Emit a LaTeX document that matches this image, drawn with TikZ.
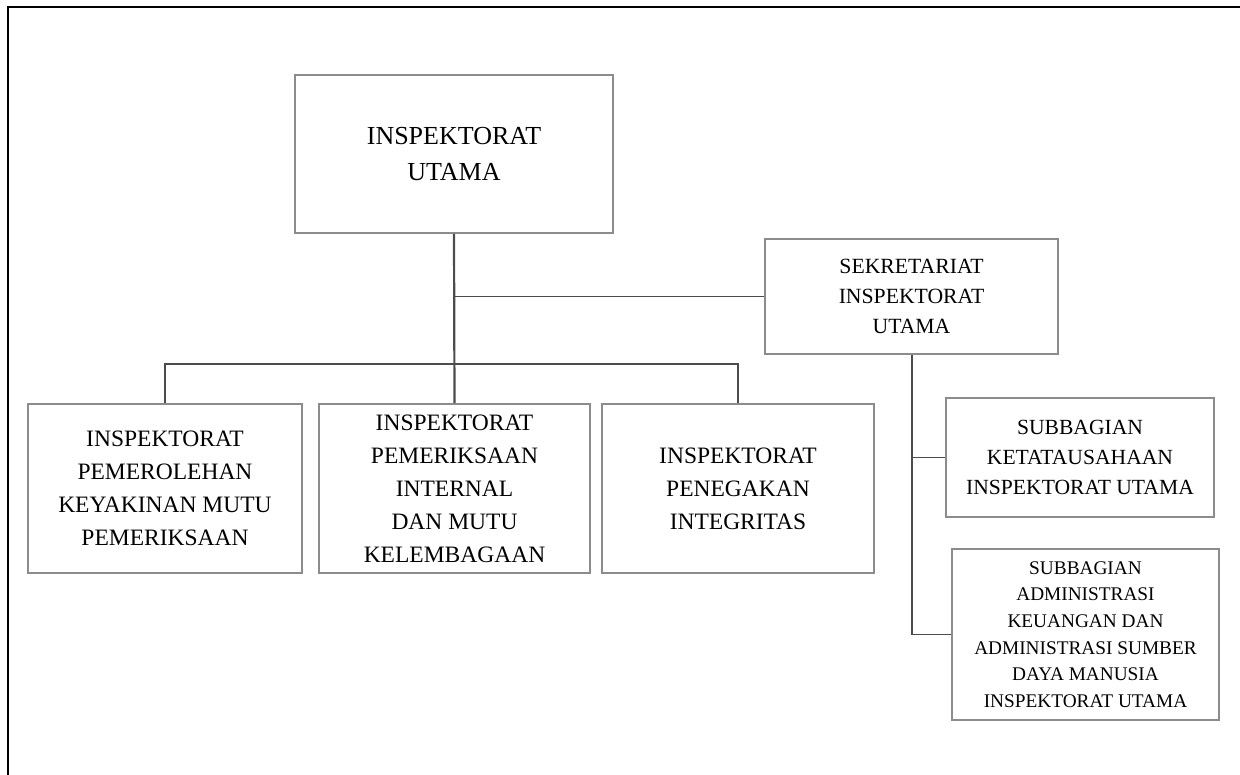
\documentclass[tikz,border=0pt]{standalone}
\usepackage{fontspec}
\setmainfont{Liberation Serif}
\usetikzlibrary{positioning}

\begin{document}
\begin{tikzpicture}[x=1pt,y=-1pt,
    unit/.style={rectangle,draw=black!45,line width=1.6pt,align=center,inner sep=0pt},
    link/.style={draw=black!70,line width=1.5pt}]
            \useasboundingbox (0,0) rectangle (1240,775);
            \draw [line width=2.6pt] (8,775) -- (8,7) -- (1240,7);

            \node [unit,minimum width=318,minimum height=158,font=\fontsize{26}{36}\selectfont] (iu) at (454,154) {INSPEKTORAT\\UTAMA};
            \node [unit,minimum width=293,minimum height=115,font=\fontsize{21.7}{30}\selectfont] (sek) at (911.5,296.5) {SEKRETARIAT\\INSPEKTORAT\\UTAMA};
            \node [unit,minimum width=274,minimum height=169,font=\fontsize{23.5}{33}\selectfont] (ipk) at (165,488.5) {INSPEKTORAT\\PEMEROLEHAN\\KEYAKINAN MUTU\\PEMERIKSAAN};
            \node [unit,minimum width=271,minimum height=169,font=\fontsize{23.5}{33}\selectfont] (ipi) at (454.5,488.5) {INSPEKTORAT\\PEMERIKSAAN\\INTERNAL\\DAN MUTU\\KELEMBAGAAN};
            \node [unit,minimum width=272,minimum height=169,font=\fontsize{23.5}{33}\selectfont] (ipn) at (738,488.5) {INSPEKTORAT\\PENEGAKAN\\INTEGRITAS};
            \node [unit,minimum width=268,minimum height=119,font=\fontsize{21.6}{30}\selectfont] (sbt) at (1080,457.5) {SUBBAGIAN\\KETATAUSAHAAN\\INSPEKTORAT UTAMA};
            \node [unit,minimum width=267,minimum height=171,font=\fontsize{19.3}{26.7}\selectfont] (sba) at (1085.5,634.5) {SUBBAGIAN\\ADMINISTRASI\\KEUANGAN DAN\\ADMINISTRASI SUMBER\\DAYA MANUSIA\\INSPEKTORAT UTAMA};

            \coordinate (bus) at (454,364);
            \coordinate (sekbus) at (454,296.5);
            \coordinate (subbus) at (912,634.5);

            \draw [link,line width=2.2pt] (iu.south) -- (ipi.north);
            \draw [link] (sekbus) -- (sek.west);
            \draw [link] (ipk.north) |- (bus) -| (ipn.north);
            \draw [link] (sek.south -| subbus) -- (subbus);
            \draw [link] (subbus |- sbt.west) -- (sbt.west);
            \draw [link] (subbus) -- (sba.west);
        \end{tikzpicture}
\end{document}
